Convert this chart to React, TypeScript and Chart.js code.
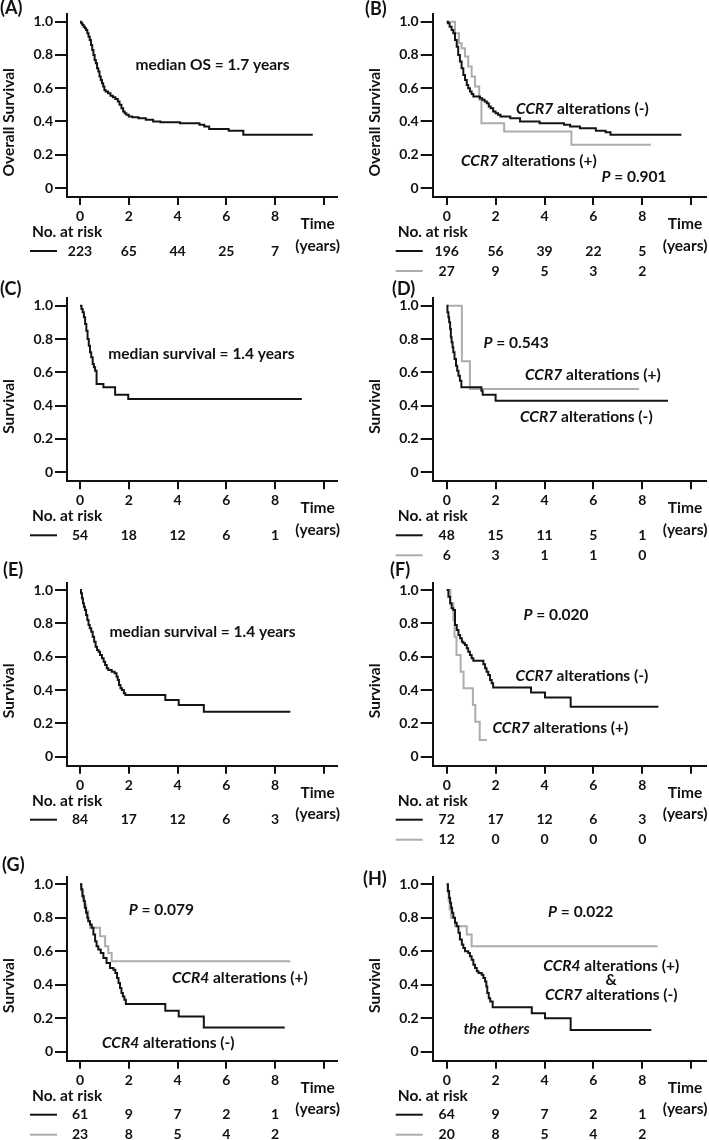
import React, { useEffect, useRef } from 'react';
import { Chart, registerables } from 'chart.js';

Chart.register(...registerables);

const FONT = 'Lato, "Open Sans", "DejaVu Sans", sans-serif';
const INK = '#111111';
const BLACK_LINE = '#141414';
const GRAY_LINE = '#adadad';

// ---- axis ticks ----
const xTickValues = [0, 2, 4, 6, 8, 10];
const xTickLabels = ['0', '2', '4', '6', '8', ''];
const yTickValues = [0, 0.2, 0.4, 0.6, 0.8, 1.0];
const yTickLabels = ['0', '0.2', '0.4', '0.6', '0.8', '1.0'];
const riskTimes = [0, 2, 4, 6, 8];

// ---- (A) all patients, overall survival ----
const aTime = [0, 0.05, 0.1, 0.15, 0.2, 0.25, 0.3, 0.35, 0.4, 0.45, 0.5, 0.55, 0.6, 0.65, 0.7, 0.75, 0.8, 0.85, 0.9, 0.95, 1.0, 1.05, 1.15, 1.25, 1.35, 1.45, 1.55, 1.62, 1.7, 1.77, 1.83, 1.9, 2.0, 2.15, 2.4, 2.7, 3.0, 3.3, 4.1, 4.9, 5.1, 5.3, 6.1, 6.7, 9.55];
const aSurv = [1.0, 0.99, 0.98, 0.97, 0.96, 0.95, 0.93, 0.91, 0.89, 0.86, 0.83, 0.8, 0.77, 0.75, 0.72, 0.7, 0.67, 0.65, 0.63, 0.61, 0.59, 0.58, 0.57, 0.555, 0.545, 0.535, 0.52, 0.5, 0.48, 0.46, 0.45, 0.44, 0.43, 0.425, 0.42, 0.41, 0.4, 0.395, 0.39, 0.38, 0.37, 0.355, 0.345, 0.32, 0.32];
const aRisk = [223, 65, 44, 25, 7];

// ---- (B) CCR7 alterations, overall survival ----
const bNegTime = [0, 0.05, 0.12, 0.2, 0.27, 0.34, 0.41, 0.47, 0.54, 0.61, 0.68, 0.75, 0.82, 0.88, 0.95, 1.02, 1.09, 1.36, 1.45, 1.55, 1.64, 1.72, 1.8, 1.9, 2.0, 2.1, 2.2, 2.6, 3.0, 3.8, 4.8, 5.05, 5.45, 6.1, 6.5, 6.7, 9.6];
const bNegSurv = [1.0, 0.99, 0.97, 0.95, 0.93, 0.89, 0.85, 0.8, 0.76, 0.72, 0.68, 0.65, 0.62, 0.6, 0.58, 0.565, 0.55, 0.54, 0.53, 0.52, 0.51, 0.49, 0.48, 0.46, 0.45, 0.44, 0.43, 0.42, 0.4, 0.39, 0.38, 0.37, 0.36, 0.345, 0.335, 0.32, 0.32];
const bPosTime = [0, 0.34, 0.5, 0.61, 0.75, 0.88, 1.02, 1.16, 1.33, 1.42, 2.35, 5.1, 8.35];
const bPosSurv = [1.0, 0.93, 0.87, 0.84, 0.79, 0.73, 0.67, 0.61, 0.53, 0.39, 0.34, 0.26, 0.26];
const bNegRisk = [196, 56, 39, 22, 5];
const bPosRisk = [27, 9, 5, 3, 2];

// ---- (C) ----
const cTime = [0, 0.06, 0.11, 0.16, 0.21, 0.26, 0.31, 0.36, 0.41, 0.46, 0.52, 0.57, 0.62, 0.68, 0.96, 1.44, 1.98, 9.1];
const cSurv = [1.0, 0.98, 0.96, 0.93, 0.89, 0.85, 0.8, 0.76, 0.72, 0.69, 0.65, 0.63, 0.61, 0.53, 0.51, 0.465, 0.44, 0.44];
const cRisk = [54, 18, 12, 6, 1];

// ---- (D) ----
const dNegTime = [0, 0.03, 0.07, 0.1, 0.14, 0.17, 0.2, 0.24, 0.27, 0.32, 0.38, 0.43, 0.48, 0.54, 0.6, 1.42, 1.47, 2.0, 9.05];
const dNegSurv = [1.0, 0.96, 0.93, 0.9, 0.86, 0.81, 0.78, 0.75, 0.72, 0.68, 0.64, 0.61, 0.58, 0.55, 0.51, 0.49, 0.465, 0.43, 0.43];
const dPosTime = [0, 0.62, 0.95, 7.87];
const dPosSurv = [1.0, 0.667, 0.5, 0.5];
const dNegRisk = [48, 15, 11, 5, 1];
const dPosRisk = [6, 3, 1, 1, 0];

// ---- (E) ----
const eTime = [0, 0.04, 0.08, 0.12, 0.16, 0.2, 0.25, 0.3, 0.35, 0.4, 0.46, 0.52, 0.58, 0.64, 0.7, 0.76, 0.82, 0.9, 0.97, 1.03, 1.1, 1.16, 1.3, 1.42, 1.5, 1.55, 1.6, 1.66, 1.72, 1.8, 1.86, 3.5, 4.05, 5.08, 8.63];
const eSurv = [1.0, 0.98, 0.95, 0.92, 0.9, 0.88, 0.85, 0.82, 0.79, 0.77, 0.75, 0.72, 0.69, 0.66, 0.64, 0.63, 0.61, 0.59, 0.57, 0.55, 0.53, 0.52, 0.51, 0.5, 0.48, 0.46, 0.43, 0.41, 0.4, 0.38, 0.37, 0.34, 0.31, 0.27, 0.27];
const eRisk = [84, 17, 12, 6, 3];

// ---- (F) ----
const fNegTime = [0, 0.07, 0.14, 0.2, 0.27, 0.34, 0.41, 0.48, 0.55, 0.62, 0.68, 0.75, 0.82, 0.88, 0.95, 1.02, 1.09, 1.5, 1.57, 1.63, 1.7, 1.77, 1.84, 1.9, 3.45, 4.02, 5.07, 8.66];
const fNegSurv = [1.0, 0.96, 0.92, 0.89, 0.88, 0.79, 0.76, 0.73, 0.71, 0.69, 0.68, 0.67, 0.65, 0.63, 0.61, 0.59, 0.575, 0.555, 0.53, 0.51, 0.49, 0.46, 0.44, 0.415, 0.385, 0.355, 0.3, 0.3];
const fPosTime = [0, 0.15, 0.27, 0.32, 0.4, 0.57, 0.69, 1.07, 1.17, 1.35, 1.64];
const fPosSurv = [1.0, 0.92, 0.82, 0.72, 0.61, 0.51, 0.41, 0.31, 0.21, 0.1, 0.1];
const fNegRisk = [72, 17, 12, 6, 3];
const fPosRisk = [12, 0, 0, 0, 0];

// ---- (G) ----
const gNegTime = [0, 0.05, 0.1, 0.15, 0.2, 0.25, 0.3, 0.34, 0.41, 0.48, 0.55, 0.62, 0.68, 0.75, 0.85, 0.96, 1.09, 1.23, 1.37, 1.45, 1.52, 1.58, 1.64, 1.7, 1.76, 1.82, 1.88, 3.5, 4.05, 5.08, 8.4];
const gNegSurv = [1.0, 0.97, 0.93, 0.9, 0.86, 0.83, 0.8, 0.78, 0.76, 0.74, 0.7, 0.66, 0.63, 0.61, 0.59, 0.56, 0.53, 0.5, 0.49, 0.47, 0.44, 0.41, 0.38, 0.35, 0.33, 0.31, 0.285, 0.245, 0.21, 0.145, 0.145];
const gPosTime = [0, 0.06, 0.11, 0.18, 0.25, 0.34, 0.41, 0.82, 1.03, 1.16, 1.3, 8.63];
const gPosSurv = [1.0, 0.96, 0.92, 0.88, 0.84, 0.78, 0.74, 0.69, 0.63, 0.59, 0.54, 0.54];
const gNegRisk = [61, 9, 7, 2, 1];
const gPosRisk = [23, 8, 5, 4, 2];

// ---- (H) ----
const hNegTime = [0, 0.05, 0.1, 0.14, 0.18, 0.22, 0.27, 0.34, 0.41, 0.48, 0.54, 0.62, 0.68, 0.75, 0.88, 0.95, 1.02, 1.09, 1.16, 1.23, 1.3, 1.43, 1.5, 1.57, 1.62, 1.66, 1.72, 1.78, 1.88, 3.48, 4.02, 5.07, 8.37];
const hNegSurv = [1.0, 0.96, 0.92, 0.89, 0.86, 0.83, 0.8, 0.77, 0.75, 0.71, 0.67, 0.64, 0.62, 0.6, 0.59, 0.57, 0.55, 0.52, 0.5, 0.48, 0.47, 0.46, 0.44, 0.42, 0.39, 0.35, 0.32, 0.3, 0.265, 0.23, 0.2, 0.13, 0.13];
const hPosTime = [0, 0.04, 0.08, 0.12, 0.18, 0.34, 0.82, 1.02, 8.63];
const hPosSurv = [1.0, 0.95, 0.9, 0.85, 0.8, 0.75, 0.7, 0.63, 0.63];
const hNegRisk = [64, 9, 7, 2, 1];
const hPosRisk = [20, 8, 5, 4, 2];

// ---- layout (page pixels) ----
type Col = { canvasLeft: number; canvasWidth: number; x0: number; ppy: number; left: number; right: number };
type Row = { y1: number; y0: number };
const COLS: Col[] = [
  { canvasLeft: 0, canvasWidth: 354, x0: 80, ppy: 24.375, left: 67, right: 337 },
  { canvasLeft: 354, canvasWidth: 355, x0: 446.7, ppy: 24.45, left: 432.7, right: 706 },
];
const ROWS: Row[] = [
  { y1: 21.7, y0: 188 },
  { y1: 305.7, y0: 472.3 },
  { y1: 590, y0: 756.7 },
  { y1: 884.3, y0: 1051.7 },
];
const CANVAS_H = 296;
const NOTE_SIZE = 15.5;
const TEXT_SIZE = 15.5;
const TICK_SIZE = 14;

type Seg = { text: string; italic?: boolean };
type Note = { segs: Seg[]; t: number; s: number };
type Series = { time: number[]; surv: number[]; color: string };
type RiskRow = { values: number[]; color: string };
type Panel = {
  label: string; col: number; row: number; labelX: number; labelY: number;
  yTitle: string; series: Series[]; risk: RiskRow[]; notes: Note[];
};

const ccr = (gene: string, sign: string): Seg[] => [{ text: gene, italic: true }, { text: ` alterations (${sign})` }];
const pval = (v: string): Seg[] => [{ text: 'P', italic: true }, { text: ` = ${v}` }];

const PANELS: Panel[] = [
  {
    label: '(A)', col: 0, row: 0, labelX: 0, labelY: 8, yTitle: 'Overall Survival',
    series: [{ time: aTime, surv: aSurv, color: BLACK_LINE }],
    risk: [{ values: aRisk, color: BLACK_LINE }],
    notes: [{ segs: [{ text: 'median OS = 1.7 years' }], t: 5.44, s: 0.738 }],
  },
  {
    label: '(B)', col: 1, row: 0, labelX: 365, labelY: 9, yTitle: 'Overall Survival',
    series: [{ time: bNegTime, surv: bNegSurv, color: BLACK_LINE }, { time: bPosTime, surv: bPosSurv, color: GRAY_LINE }],
    risk: [{ values: bNegRisk, color: BLACK_LINE }, { values: bPosRisk, color: GRAY_LINE }],
    notes: [
      { segs: ccr('CCR7', '-'), t: 5.55, s: 0.478 },
      { segs: ccr('CCR7', '+'), t: 3.36, s: 0.162 },
      { segs: pval('0.901'), t: 7.66, s: 0.064 },
    ],
  },
  {
    label: '(C)', col: 0, row: 1, labelX: 0, labelY: 289, yTitle: 'Survival',
    series: [{ time: cTime, surv: cSurv, color: BLACK_LINE }],
    risk: [{ values: cRisk, color: BLACK_LINE }],
    notes: [{ segs: [{ text: 'median survival = 1.4 years' }], t: 4.98, s: 0.71 }],
  },
  {
    label: '(D)', col: 1, row: 1, labelX: 392, labelY: 289, yTitle: 'Survival',
    series: [{ time: dNegTime, surv: dNegSurv, color: BLACK_LINE }, { time: dPosTime, surv: dPosSurv, color: GRAY_LINE }],
    risk: [{ values: dNegRisk, color: BLACK_LINE }, { values: dPosRisk, color: GRAY_LINE }],
    notes: [
      { segs: pval('0.543'), t: 2.84, s: 0.774 },
      { segs: ccr('CCR7', '+'), t: 5.98, s: 0.584 },
      { segs: ccr('CCR7', '-'), t: 5.71, s: 0.334 },
    ],
  },
  {
    label: '(E)', col: 0, row: 2, labelX: 3, labelY: 570, yTitle: 'Survival',
    series: [{ time: eTime, surv: eSurv, color: BLACK_LINE }],
    risk: [{ values: eRisk, color: BLACK_LINE }],
    notes: [{ segs: [{ text: 'median survival = 1.4 years' }], t: 5.03, s: 0.746 }],
  },
  {
    label: '(F)', col: 1, row: 2, labelX: 390, labelY: 570, yTitle: 'Survival',
    series: [{ time: fNegTime, surv: fNegSurv, color: BLACK_LINE }, { time: fPosTime, surv: fPosSurv, color: GRAY_LINE }],
    risk: [{ values: fNegRisk, color: BLACK_LINE }, { values: fPosRisk, color: GRAY_LINE }],
    notes: [
      { segs: pval('0.020'), t: 4.47, s: 0.85 },
      { segs: ccr('CCR7', '-'), t: 5.53, s: 0.484 },
      { segs: ccr('CCR7', '+'), t: 4.65, s: 0.174 },
    ],
  },
  {
    label: '(G)', col: 0, row: 3, labelX: 2, labelY: 865.5, yTitle: 'Survival',
    series: [{ time: gNegTime, surv: gNegSurv, color: BLACK_LINE }, { time: gPosTime, surv: gPosSurv, color: GRAY_LINE }],
    risk: [{ values: gNegRisk, color: BLACK_LINE }, { values: gPosRisk, color: GRAY_LINE }],
    notes: [
      { segs: pval('0.079'), t: 3.34, s: 0.847 },
      { segs: ccr('CCR4', '+'), t: 6.56, s: 0.438 },
      { segs: ccr('CCR4', '-'), t: 3.62, s: 0.054 },
    ],
  },
  {
    label: '(H)', col: 1, row: 3, labelX: 363, labelY: 879, yTitle: 'Survival',
    series: [{ time: hNegTime, surv: hNegSurv, color: BLACK_LINE }, { time: hPosTime, surv: hPosSurv, color: GRAY_LINE }],
    risk: [{ values: hNegRisk, color: BLACK_LINE }, { values: hPosRisk, color: GRAY_LINE }],
    notes: [
      { segs: pval('0.022'), t: 5.48, s: 0.837 },
      { segs: ccr('CCR4', '+'), t: 6.73, s: 0.512 },
      { segs: [{ text: '&' }], t: 6.72, s: 0.428 },
      { segs: ccr('CCR7', '-'), t: 6.73, s: 0.338 },
      { segs: [{ text: 'the others', italic: true }], t: 2.04, s: 0.134 },
    ],
  },
];

function fontStr(size: number, italic?: boolean) {
  return `${italic ? 'italic ' : ''}bold ${size}px ${FONT}`;
}

function drawSegs(ctx: CanvasRenderingContext2D, segs: Seg[], cx: number, cy: number, size: number) {
  let total = 0;
  const widths = segs.map((sg) => {
    ctx.font = fontStr(size, sg.italic);
    const w = ctx.measureText(sg.text).width;
    total += w;
    return w;
  });
  let x = cx - total / 2;
  ctx.textAlign = 'left';
  ctx.textBaseline = 'middle';
  segs.forEach((sg, i) => {
    ctx.font = fontStr(size, sg.italic);
    ctx.fillText(sg.text, x, cy);
    x += widths[i];
  });
}

function KMPanel({ panel }: { panel: Panel }) {
  const ref = useRef<HTMLCanvasElement | null>(null);
  const col = COLS[panel.col];
  const row = ROWS[panel.row];
  const canvasTop = Math.round(row.y1 - 32);
  const canvasLeft = col.canvasLeft;
  const w = col.canvasWidth;
  const h = CANVAS_H;

  useEffect(() => {
    const canvas = ref.current;
    if (!canvas) return;
    const pxPerUnit = row.y0 - row.y1;
    const top = row.y1 - 7.5;
    const bottom = row.y0 + 9;
    const yMin = (row.y0 - bottom) / pxPerUnit;
    const yMax = (row.y0 - top) / pxPerUnit;
    const xMin = (col.left - col.x0) / col.ppy;
    const xMax = (col.right - col.x0) / col.ppy;

    const textPlugin = {
      id: 'kmText',
      afterDraw(chart: any) {
        const ctx: CanvasRenderingContext2D = chart.ctx;
        const area = chart.chartArea;
        const xs = chart.scales.x;
        const ys = chart.scales.y;
        ctx.save();
        ctx.fillStyle = INK;
        panel.notes.forEach((n) => drawSegs(ctx, n.segs, xs.getPixelForValue(n.t), ys.getPixelForValue(n.s), NOTE_SIZE));

        ctx.save();
        ctx.translate(area.left - 58, ys.getPixelForValue(0.395));
        ctx.rotate(-Math.PI / 2);
        drawSegs(ctx, [{ text: panel.yTitle }], 0, 0, TEXT_SIZE);
        ctx.restore();

        ctx.font = fontStr(18);
        ctx.textAlign = 'left';
        ctx.textBaseline = 'middle';
        ctx.fillText(panel.label, panel.labelX - canvasLeft, panel.labelY - canvasTop);

        const b = area.bottom;
        ctx.font = fontStr(TEXT_SIZE);
        ctx.fillText('No. at risk', area.left - 35, b + 35);
        panel.risk.forEach((r, i) => {
          const y = b + 54 + i * 20;
          ctx.strokeStyle = r.color;
          ctx.lineWidth = 2;
          ctx.beginPath();
          ctx.moveTo(area.left - 37, y);
          ctx.lineTo(area.left - 10, y);
          ctx.stroke();
          ctx.font = fontStr(TICK_SIZE);
          ctx.textAlign = 'center';
          ctx.fillStyle = INK;
          r.values.forEach((v, j) => ctx.fillText(String(v), xs.getPixelForValue(riskTimes[j]), y));
        });
        drawSegs(ctx, [{ text: 'Time' }], xs.getPixelForValue(9.75), b + 27, TEXT_SIZE);
        drawSegs(ctx, [{ text: '(years)' }], xs.getPixelForValue(9.75), b + 48.5, TEXT_SIZE);
        ctx.restore();
      },
    };

    const chart = new Chart(canvas, {
      type: 'line',
      data: {
        datasets: panel.series.map((s) => ({
          data: s.time.map((t, i) => ({ x: t, y: s.surv[i] })),
          borderColor: s.color,
          borderWidth: 2,
          stepped: 'before' as const,
          pointRadius: 0,
          fill: false,
          tension: 0,
          borderCapStyle: 'butt' as const,
          borderJoinStyle: 'miter' as const,
        })),
      },
      options: {
        animation: false,
        responsive: false,
        maintainAspectRatio: false,
        events: [],
        layout: {
          padding: { left: 0, top: top - canvasTop, right: canvasLeft + w - col.right, bottom: 0 },
        },
        plugins: { legend: { display: false }, tooltip: { enabled: false }, title: { display: false } },
        scales: {
          x: {
            type: 'linear',
            min: xMin,
            max: xMax,
            afterFit: (s: any) => { s.height = canvasTop + h - bottom; },
            afterBuildTicks: (s: any) => { s.ticks = xTickValues.map((v) => ({ value: v })); },
            ticks: {
              callback: (_v: any, i: number) => xTickLabels[i],
              font: { family: FONT, size: TICK_SIZE, weight: 'bold' },
              color: INK,
              padding: 3,
              maxRotation: 0,
              autoSkip: false,
            },
            grid: { drawOnChartArea: false, drawTicks: true, tickLength: 8, color: INK, lineWidth: 2 },
            border: { display: true, color: INK, width: 2 },
          },
          y: {
            type: 'linear',
            min: yMin,
            max: yMax,
            afterFit: (s: any) => { s.width = col.left - canvasLeft; },
            afterBuildTicks: (s: any) => { s.ticks = yTickValues.map((v) => ({ value: v })); },
            ticks: {
              callback: (_v: any, i: number) => yTickLabels[i],
              font: { family: FONT, size: TICK_SIZE, weight: 'bold' },
              color: INK,
              padding: 2,
              autoSkip: false,
            },
            grid: { drawOnChartArea: false, drawTicks: true, tickLength: 12, color: INK, lineWidth: 2 },
            border: { display: true, color: INK, width: 2 },
          },
        },
      },
      plugins: [textPlugin],
    } as any);
    return () => chart.destroy();
  }, []);

  return (
    <canvas
      ref={ref}
      width={w}
      height={h}
      style={{ position: 'absolute', left: canvasLeft, top: canvasTop, width: w, height: h }}
    />
  );
}

export default function App() {
  return (
    <div style={{ position: 'absolute', left: 0, top: 0, width: 709, height: 1140, overflow: 'hidden', background: '#ffffff' }}>
      {PANELS.map((p) => (
        <KMPanel key={p.label} panel={p} />
      ))}
    </div>
  );
}
